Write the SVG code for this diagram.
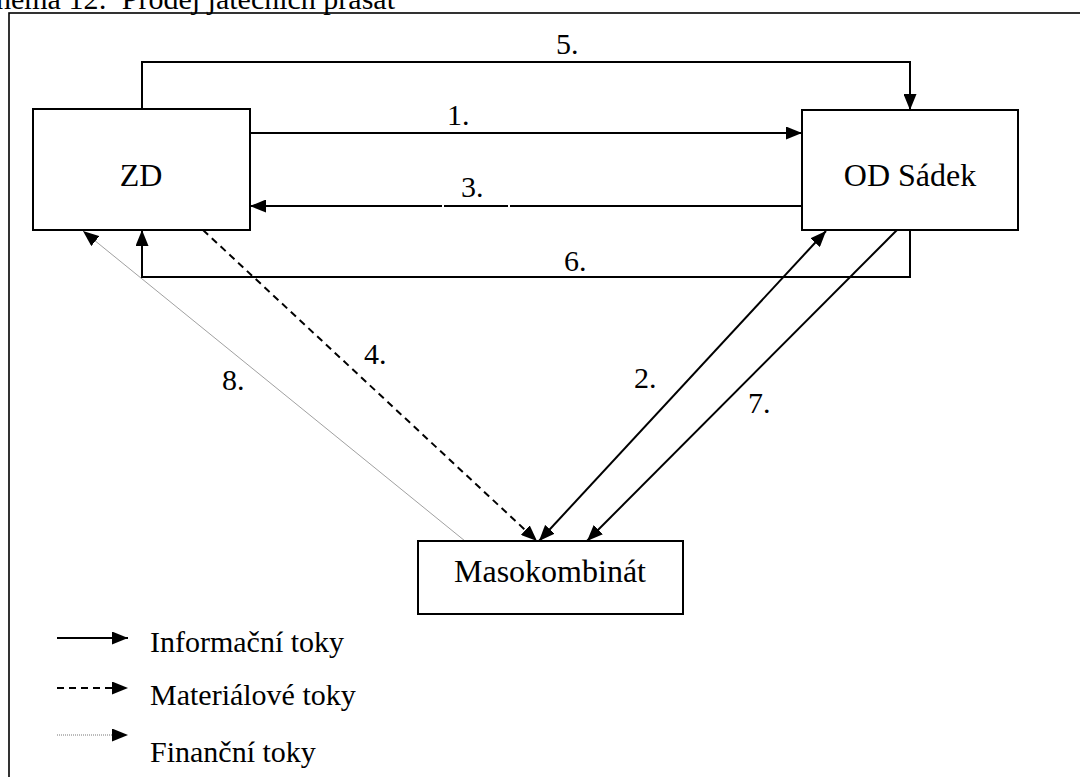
<svg xmlns="http://www.w3.org/2000/svg" width="1080" height="777" viewBox="0 0 1080 777" font-family="'Liberation Serif', 'DejaVu Serif', 'Times New Roman', serif">
  <style>
    text { font-family: "Liberation Serif", "DejaVu Serif", "Times New Roman", serif; fill: #000; }
    .node rect { fill: #fff; stroke: #000; stroke-width: 2; }
    .node text { font-size: 32px; text-anchor: middle; }
    .lbl { font-size: 30px; }
    .leg { font-size: 30px; }
    .info { fill: none; stroke: #000; stroke-width: 2; }
    .mat { fill: none; stroke: #000; stroke-width: 2; stroke-dasharray: 7 5; }
    .fin { fill: none; stroke: #888; stroke-width: 0.8; }
    .findot { fill: none; stroke: #777; stroke-width: 1; stroke-dasharray: 1 1; }
  </style>
  <defs>
    <marker id="arrow" viewBox="0 0 16 13" refX="16" refY="6.5" markerWidth="16" markerHeight="13" markerUnits="userSpaceOnUse" orient="auto-start-reverse">
      <path d="M0,0 L16,6.5 L0,13 Z" fill="#000"/>
    </marker>
  </defs>

  <rect width="1080" height="777" fill="#fff"/>

  <!-- title, partly outside the page -->
  <text x="395" y="9" font-size="30" text-anchor="end" font-family="'Liberation Serif', 'DejaVu Serif', serif">Schéma 12:&#160; Prodej jatečních prasat</text>

  <!-- outer frame -->
  <rect x="9" y="13" width="1100" height="800" fill="none" stroke="#000" stroke-width="1.6"/>

  <g id="connectors">
    <!-- 5: ZD top -> OD Sádek top -->
    <path class="info" d="M142,109 V62 H910 V110" marker-end="url(#arrow)"/>
    <!-- 1: ZD -> OD Sádek -->
    <path class="info" d="M250,133 H802" marker-end="url(#arrow)"/>
    <!-- 3: OD Sádek -> ZD (line broken by small gaps) -->
    <path class="info" d="M802,206 H510"/>
    <path class="info" d="M508,206 H444"/>
    <path class="info" d="M442,206 H250" marker-end="url(#arrow)"/>
    <!-- 6: OD Sádek bottom -> ZD bottom -->
    <path class="info" d="M910,230 V277 H142 V230" marker-end="url(#arrow)"/>
    <!-- 4: ZD -> Masokombinát (material) -->
    <path class="mat" d="M203,230 L537,541" marker-end="url(#arrow)"/>
    <!-- 8: Masokombinát -> ZD (financial) -->
    <path class="fin" d="M465,541 L83,231"/>
    <path d="M465,541 L83,231" stroke="none" fill="none" marker-end="url(#arrow)"/>
    <!-- 2: Masokombinát <-> OD Sádek -->
    <path class="info" d="M539,541 L826,231" marker-start="url(#arrow)" marker-end="url(#arrow)"/>
    <!-- 7: OD Sádek -> Masokombinát -->
    <path class="info" d="M897,230 L587,541" marker-end="url(#arrow)"/>
  </g>

  <g id="labels" font-family="'Liberation Serif', 'DejaVu Serif', serif">
    <text class="lbl" x="556" y="54">5.</text>
    <text class="lbl" x="447" y="125">1.</text>
    <text class="lbl" x="461" y="197">3.</text>
    <text class="lbl" x="564" y="271">6.</text>
    <text class="lbl" x="364" y="364">4.</text>
    <text class="lbl" x="222" y="390">8.</text>
    <text class="lbl" x="634" y="388">2.</text>
    <text class="lbl" x="748" y="413">7.</text>
  </g>

  <g id="zd" class="node">
    <rect x="33" y="109" width="217" height="121"/>
    <text x="141" y="186">ZD</text>
  </g>
  <g id="od-sadek" class="node">
    <rect x="802" y="110" width="216" height="120"/>
    <text x="910" y="186">OD Sádek</text>
  </g>
  <g id="masokombinat" class="node">
    <rect x="418" y="541" width="265" height="73"/>
    <text x="550" y="582">Masokombinát</text>
  </g>

  <g id="legend">
    <path class="info" d="M57,638 H128" marker-end="url(#arrow)"/>
    <text class="leg" x="150" y="652">Informační toky</text>
    <path class="mat" d="M57,688 H116"/>
    <path d="M114,688 H128" stroke="none" fill="none" marker-end="url(#arrow)"/>
    <text class="leg" x="150" y="705">Materiálové toky</text>
    <path class="findot" d="M57,735 H116"/>
    <path d="M114,735 H128" stroke="none" fill="none" marker-end="url(#arrow)"/>
    <text class="leg" x="150" y="762">Finanční toky</text>
  </g>
</svg>
